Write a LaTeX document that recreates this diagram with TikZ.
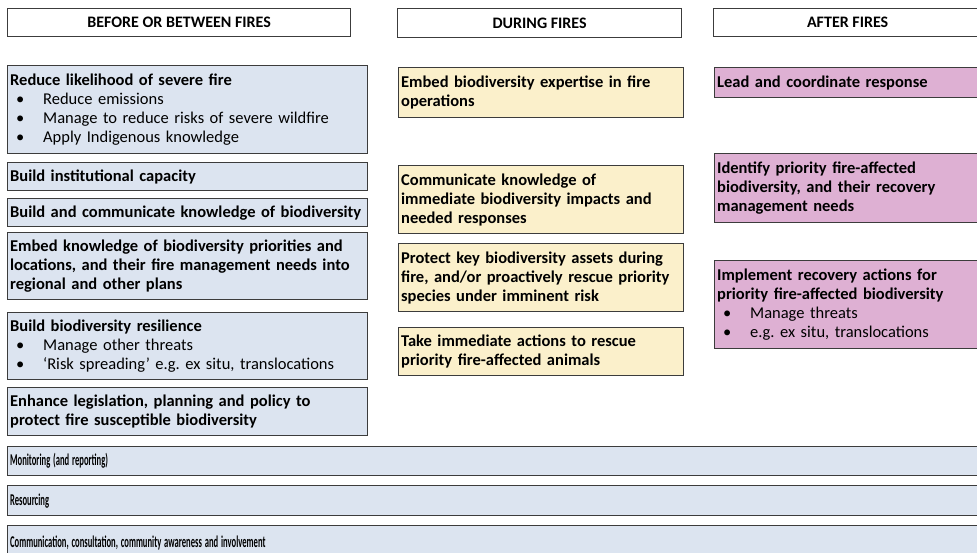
\documentclass[tikz,border=0pt]{standalone}
\usepackage{fontspec}
\setmainfont{Carlito}
\usepackage{graphicx}
\frenchspacing
\definecolor{bluefill}{RGB}{220,228,240}
\definecolor{yellowfill}{RGB}{251,240,203}
\definecolor{pinkfill}{RGB}{222,176,211}
\definecolor{edge}{RGB}{60,60,60}
% bullet line inside a box
\newcommand{\itm}[1]{\\{\mdseries\hspace*{6pt}\makebox[27pt][l]{\textbullet}#1}}
% horizontally condensed label used in the cross-cutting bands
\newcommand{\narrow}[1]{\scalebox{0.52}[1]{#1}}
\begin{document}
\begin{tikzpicture}[x=1pt,y=-1pt,
  box/.style={draw=edge, line width=1.3pt, anchor=north west, inner xsep=2.5pt, inner ysep=2pt,
    align=left, font=\fontsize{16.5}{19}\selectfont\bfseries},
  head/.style={draw=edge, line width=1.3pt, fill=white, anchor=north west, inner sep=0pt,
    align=center, font=\fontsize{16}{18}\selectfont\bfseries},
  bluebox/.style={box, fill=bluefill},
  yellowbox/.style={box, fill=yellowfill},
  pinkbox/.style={box, fill=pinkfill},
  band/.style={bluebox, text width=977pt, minimum height=29pt}]
\useasboundingbox (0,0) rectangle (977,553);
\clip (0,0) rectangle (977,553);
\fill[white] (0,0) rectangle (977,553);

% column headings
\node[head, minimum width=343pt, minimum height=28pt] (h1) at (7,8) {BEFORE OR BETWEEN FIRES};
\node[head, minimum width=284pt, minimum height=29pt] (h2) at (397,8) {DURING FIRES};
\node[head, minimum width=268pt, minimum height=28pt] (h3) at (713,8) {AFTER FIRES};

% before or between fires
\node[bluebox, text width=355pt, minimum height=88pt] (b1) at (7,65)
  {Reduce likelihood of severe fire\itm{Reduce emissions}\itm{Manage to reduce risks of severe wildfire}\itm{Apply Indigenous knowledge}};
\node[bluebox, text width=355pt, minimum height=28pt] (b2) at (7,162) {Build institutional capacity};
\node[bluebox, text width=355pt, minimum height=28pt] (b3) at (7,198) {Build and communicate knowledge of biodiversity};
\node[bluebox, text width=355pt, minimum height=67pt] (b4) at (7,232)
  {Embed knowledge of biodiversity priorities and\\locations, and their fire management needs into\\regional and other plans};
\node[bluebox, text width=355pt, minimum height=67pt] (b5) at (7,312)
  {Build biodiversity resilience\itm{Manage other threats}\itm{‘Risk spreading’ e.g. ex situ, translocations}};
\node[bluebox, text width=355pt, minimum height=48pt] (b6) at (7,387)
  {Enhance legislation, planning and policy to\\protect fire susceptible biodiversity};

% during fires
\node[yellowbox, text width=280pt, minimum height=50pt] (y1) at (398,67)
  {Embed biodiversity expertise in fire\\operations};
\node[yellowbox, text width=280pt, minimum height=68pt] (y2) at (398,165)
  {Communicate knowledge of\\immediate biodiversity impacts and\\needed responses};
\node[yellowbox, text width=280pt, minimum height=68pt] (y3) at (398,243)
  {Protect key biodiversity assets during\\fire, and/or proactively rescue priority\\species under imminent risk};
\node[yellowbox, text width=280pt, minimum height=48pt] (y4) at (398,327)
  {Take immediate actions to rescue\\priority fire-affected animals};

% after fires
\node[pinkbox, text width=263pt, minimum height=30pt] (p1) at (714,67) {Lead and coordinate response};
\node[pinkbox, text width=263pt, minimum height=69pt] (p2) at (714,153)
  {Identify priority fire-affected\\biodiversity, and their recovery\\management needs};
\node[pinkbox, text width=263pt, minimum height=88pt] (p3) at (714,260)
  {Implement recovery actions for\\priority fire-affected biodiversity\itm{Manage threats}\itm{e.g. ex situ, translocations}};

% cross-cutting bands
\node[band] (m) at (7,446) {\narrow{Monitoring (and reporting)}};
\node[band, minimum height=30pt] (r) at (7,485) {\narrow{Resourcing}};
\node[band, minimum height=34pt] (c) at (7,525) {\raisebox{2pt}{\narrow{Communication, consultation, community awareness and involvement}}};
\end{tikzpicture}
\end{document}
